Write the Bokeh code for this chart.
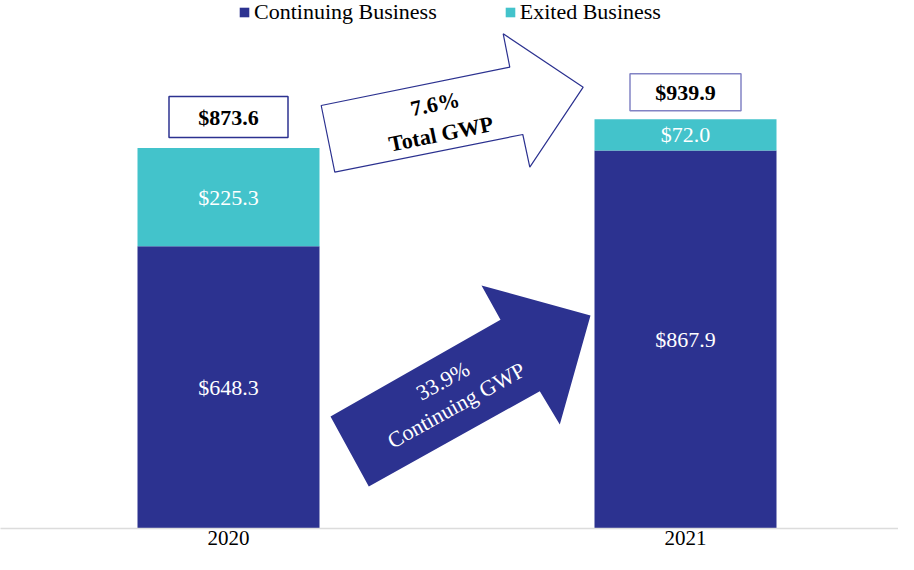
from bokeh.plotting import figure
from bokeh.models import ColumnDataSource, FixedTicker, Legend, LegendItem
from bokeh.core.properties import value
from bokeh.embed import file_html
from bokeh.resources import INLINE
import math

# ---- data ----
years = ["2020", "2021"]
continuing = [648.3, 867.9]
exited = [225.3, 72.0]
totals = [873.6, 939.9]
series_names = ["Continuing Business", "Exited Business"]
arrow_labels = ["7.6%\nTotal GWP", "33.9%\nContinuing GWP"]

# ---- styles / layout ----
NAVY = "#2c3290"
TEAL = "#43c3cb"
FONT = value("Liberation Serif")

W, H = 898, 554
FRAME_H = 528
BOTTOM = H - FRAME_H
PX_PER_X = 457.0      # pixels per category step
PX_PER_Y = 0.4355     # pixels per $M
X0 = -228.0 / PX_PER_X
X1 = X0 + W / PX_PER_X
Y1 = FRAME_H / PX_PER_Y
BAR_W = 182.0 / PX_PER_X


def dx(px):
    return X0 + px / PX_PER_X


def dy(py):
    return (FRAME_H - py) / PX_PER_Y


p = figure(width=W, height=H, x_range=(X0, X1), y_range=(0, Y1),
           output_backend="svg", toolbar_location=None,
           y_axis_location=None, min_border_left=0, min_border_right=0,
           min_border_top=0, min_border_bottom=BOTTOM)
p.outline_line_color = None
p.xgrid.visible = False
p.ygrid.visible = False
p.background_fill_color = "white"
p.border_fill_color = "white"

xs = list(range(len(years)))
src = ColumnDataSource(dict(x=xs, continuing=continuing, exited=exited))
rends = p.vbar_stack(["continuing", "exited"], x="x", width=BAR_W,
                     color=[NAVY, TEAL], line_color=None, source=src)

# arrows (decorative shapes, placed in picture pixels)
white_arrow = [(320.7, 105), (509.3, 66.7), (502.7, 33.3), (582.7, 86.7),
               (529.3, 166.7), (522.3, 134), (334.3, 171.7)]
dark_arrow = [(330, 416), (500, 319.3), (481, 285), (590, 315),
              (559.3, 424), (539.3, 390.7), (368.3, 486)]
p.patch([dx(a) for a, b in white_arrow], [dy(b) for a, b in white_arrow],
        fill_color="white", line_color=NAVY, line_width=1.2)
p.patch([dx(a) for a, b in dark_arrow], [dy(b) for a, b in dark_arrow],
        fill_color=NAVY, line_color=None)

p.text(x=[dx(437.5)], y=[dy(118.4)], text=[arrow_labels[0]],
       angle=math.radians(11.5), text_align="center", text_baseline="middle",
       text_font=FONT, text_font_size="22px", text_font_style="bold",
       text_color="black", text_line_height=1.22)
p.text(x=[dx(449)], y=[dy(392.5)], text=[arrow_labels[1]],
       angle=math.radians(29), text_align="center", text_baseline="middle",
       text_font=FONT, text_font_size="22px", text_color="white",
       text_line_height=1.12)

# segment labels
cont_mid = [c / 2 for c in continuing]
exit_mid = [c + e / 2 for c, e in zip(continuing, exited)]
p.text(x=xs, y=cont_mid, text=[f"${v:.1f}" for v in continuing],
       text_align="center", text_baseline="middle", text_font=FONT,
       text_font_size="22px", text_color="white")
p.text(x=xs, y=exit_mid, text=[f"${v:.1f}" for v in exited],
       text_align="center", text_baseline="middle", text_font=FONT,
       text_font_size="22px", text_color="white")

# total boxes
box_off_px = [31, 27]
box_w = [119, 111]
box_h = [41, 37]
box_line = [NAVY, "#8283c4"]
box_y = [t + o / PX_PER_Y for t, o in zip(totals, box_off_px)]
p.rect(x=xs, y=box_y, width=box_w, height=box_h, width_units="screen",
       height_units="screen", fill_color="white", line_color=box_line,
       line_width=1.5)
p.text(x=xs, y=box_y, text=[f"${v:.1f}" for v in totals],
       text_align="center", text_baseline="middle", text_font=FONT,
       text_font_size="22px", text_font_style="bold", text_color="black")

# x axis
ax = p.xaxis[0]
ax.ticker = FixedTicker(ticks=xs)
ax.major_label_overrides = {i: y for i, y in zip(xs, years)}
ax.major_label_text_font = "Liberation Serif"
ax.major_label_text_font_size = "21px"
ax.major_label_text_color = "black"
ax.major_label_standoff = 2
ax.major_tick_line_color = None
ax.major_tick_out = 0
ax.minor_tick_line_color = None
ax.axis_line_color = "#dcdcdc"
ax.axis_line_width = 1.5

legend = Legend(items=[LegendItem(label=n, renderers=[r])
                       for n, r in zip(series_names, rends)],
                location=(238, FRAME_H - 25), orientation="horizontal",
                glyph_width=12, glyph_height=12, label_height=22,
                label_standoff=4, spacing=67, padding=0, margin=0,
                label_text_font="Liberation Serif",
                label_text_font_size="22px", label_text_color="black",
                border_line_color=None, background_fill_alpha=0)
p.add_layout(legend)

open("out.html", "w").write(file_html(p, INLINE))
